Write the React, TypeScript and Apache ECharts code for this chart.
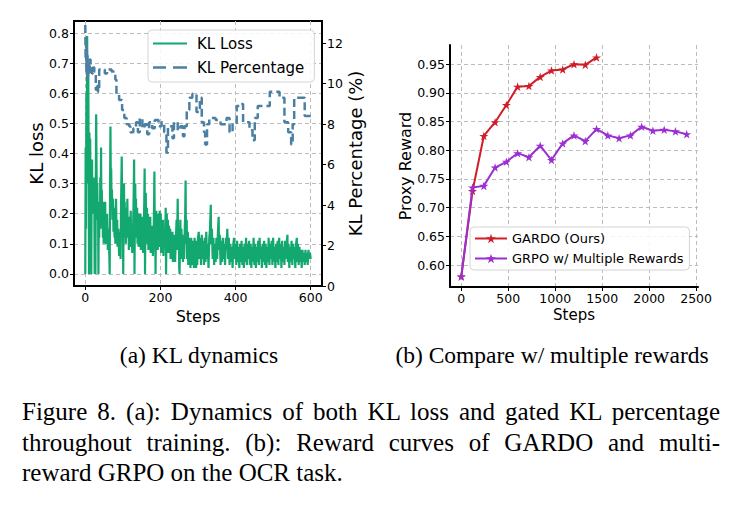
import React, { useEffect, useRef } from "react";
import * as echarts from "echarts";

// ---- KL dynamics: [step, KL loss] ----
const klLoss: [number, number][] = [
  [0, 0.0], [1, 0.42], [2, 0.15], [3, 0.6], [4, 0.35], [5, 0.79], [6, 0.55], [7, 0.3], [8, 0.68], [9, 0.35],
  [10, 0.0], [11, 0.47], [12, 0.3], [13, 0.45], [14, 0.25], [15, 0.35], [16, 0.0], [17, 0.28], [18, 0.38], [19, 0.2],
  [20, 0.3], [21, 0.22], [22, 0.32], [23, 0.2], [24, 0.27], [25, 0.0], [26, 0.25], [27, 0.0], [28, 0.3], [29, 0.53],
  [30, 0.35], [31, 0.25], [32, 0.3], [33, 0.18], [34, 0.22], [35, 0.0], [36, 0.2], [37, 0.12], [38, 0.24], [39, 0.15],
  [40, 0.32], [41, 0.2], [42, 0.42], [43, 0.2], [44, 0.28], [45, 0.15], [46, 0.22], [47, 0.12], [48, 0.2], [49, 0.1],
  [50, 0.24], [52, 0.13], [53, 0.24], [54, 0.1], [56, 0.18], [57, 0.12], [58, 0.2], [60, 0.08], [62, 0.15], [64, 0.06],
  [65, 0.0], [66, 0.3], [67, 0.49], [68, 0.3], [69, 0.35], [70, 0.22], [71, 0.28], [72, 0.18], [74, 0.25], [75, 0.14],
  [76, 0.22], [78, 0.12], [79, 0.2], [80, 0.1], [82, 0.25], [83, 0.12], [85, 0.18], [86, 0.09], [88, 0.15], [90, 0.06],
  [92, 0.14], [94, 0.05], [95, 0.2], [96, 0.3], [97, 0.39], [98, 0.25], [99, 0.15],
  [100, 0.2], [101, 0.0], [102, 0.18], [103, 0.3], [104, 0.16], [105, 0.24], [106, 0.12], [107, 0.22], [108, 0.1], [110, 0.2],
  [111, 0.13], [112, 0.25], [113, 0.12], [115, 0.19], [116, 0.08], [118, 0.17], [119, 0.1], [121, 0.21], [122, 0.09], [124, 0.16],
  [125, 0.07], [127, 0.14], [128, 0.2], [129, 0.28], [130, 0.38], [131, 0.0], [132, 0.2], [133, 0.3], [134, 0.16], [135, 0.25],
  [136, 0.12], [138, 0.22], [139, 0.1], [141, 0.2], [142, 0.09], [144, 0.18], [145, 0.11], [147, 0.2], [148, 0.08], [150, 0.16],
  [151, 0.1], [153, 0.19], [154, 0.07], [156, 0.15], [157, 0.24], [158, 0.35], [159, 0.0], [160, 0.18], [161, 0.27], [162, 0.14],
  [164, 0.22], [165, 0.1], [167, 0.2], [168, 0.08], [170, 0.17], [171, 0.1], [173, 0.19], [174, 0.07], [176, 0.15], [177, 0.09],
  [179, 0.16], [180, 0.06], [182, 0.14], [183, 0.22], [184, 0.34], [185, 0.1], [186, 0.2], [187, 0.0], [188, 0.15], [189, 0.21],
  [190, 0.1], [192, 0.2], [193, 0.08], [195, 0.19], [196, 0.1], [198, 0.21], [199, 0.09], [201, 0.2], [202, 0.07], [204, 0.17],
  [205, 0.1], [207, 0.18], [208, 0.06], [210, 0.15], [211, 0.09], [213, 0.14], [214, 0.22], [215, 0.0], [216, 0.13], [217, 0.2],
  [218, 0.1], [220, 0.18], [221, 0.07], [223, 0.16], [224, 0.09], [226, 0.15], [227, 0.05], [229, 0.13], [230, 0.08], [232, 0.14],
  [233, 0.04], [235, 0.12], [236, 0.07], [238, 0.13], [239, 0.04], [241, 0.11], [243, 0.18], [244, 0.08], [246, 0.25], [247, 0.1],
  [249, 0.15], [250, 0.02], [251, 0.0], [252, 0.12], [253, 0.18], [254, 0.07], [256, 0.15], [257, 0.05], [259, 0.13], [260, 0.04],
  [262, 0.12], [263, 0.05], [265, 0.16], [266, 0.2], [267, 0.31], [268, 0.1], [270, 0.18], [271, 0.05], [273, 0.14], [274, 0.03],
  [276, 0.12], [277, 0.04], [279, 0.1], [280, 0.02], [282, 0.12], [283, 0.03], [285, 0.11], [286, 0.04], [288, 0.1], [289, 0.02],
  [291, 0.12], [292, 0.04], [294, 0.1], [295, 0.02], [297, 0.11], [298, 0.03],
  [300, 0.12], [302, 0.14], [304, 0.05], [306, 0.12], [308, 0.03], [310, 0.13],
  [312, 0.05], [314, 0.11], [316, 0.03], [318, 0.12], [320, 0.04], [322, 0.14], [324, 0.05], [326, 0.1], [328, 0.02], [330, 0.12],
  [332, 0.15], [334, 0.23], [335, 0.1], [337, 0.15], [339, 0.05], [341, 0.12], [343, 0.03], [345, 0.1], [347, 0.04], [349, 0.12],
  [351, 0.05], [353, 0.14], [355, 0.19], [356, 0.08], [358, 0.13], [360, 0.03], [362, 0.11], [364, 0.04], [366, 0.12], [368, 0.05],
  [370, 0.1], [372, 0.03], [374, 0.12], [376, 0.08], [378, 0.15], [380, 0.05], [382, 0.12], [384, 0.03], [386, 0.1], [388, 0.04],
  [390, 0.09], [392, 0.02], [394, 0.1], [396, 0.12], [398, 0.05], [400, 0.1], [402, 0.03], [404, 0.11], [406, 0.04], [408, 0.09],
  [410, 0.02], [412, 0.1], [414, 0.04], [416, 0.11], [418, 0.03], [420, 0.09], [422, 0.02], [424, 0.1], [426, 0.04], [428, 0.12],
  [430, 0.03], [432, 0.1], [434, 0.05], [436, 0.11], [438, 0.03], [440, 0.1], [442, 0.02], [444, 0.09], [446, 0.04], [448, 0.12],
  [450, 0.03], [452, 0.1], [454, 0.02], [456, 0.09], [458, 0.04], [460, 0.11], [462, 0.03], [464, 0.12], [466, 0.05], [468, 0.09],
  [470, 0.02], [472, 0.1], [474, 0.04], [476, 0.11], [478, 0.03], [480, 0.1], [482, 0.02], [484, 0.09], [486, 0.04], [488, 0.12],
  [490, 0.03], [492, 0.1], [494, 0.05], [496, 0.11], [498, 0.03], [500, 0.12], [502, 0.04], [504, 0.09], [506, 0.02], [508, 0.1],
  [510, 0.04], [512, 0.11], [514, 0.03], [516, 0.12], [518, 0.05], [520, 0.1], [522, 0.02], [524, 0.11], [526, 0.04], [528, 0.09],
  [530, 0.03], [532, 0.11], [534, 0.05], [536, 0.1], [538, 0.13], [539, 0.04], [541, 0.1], [543, 0.02], [545, 0.09], [547, 0.04],
  [549, 0.11], [551, 0.03], [553, 0.1], [555, 0.05], [557, 0.09], [559, 0.02], [561, 0.1], [563, 0.12], [564, 0.04], [566, 0.1],
  [568, 0.03], [570, 0.09], [572, 0.04], [574, 0.08], [576, 0.02], [578, 0.08], [580, 0.04], [582, 0.07], [584, 0.03], [586, 0.08],
  [588, 0.04], [590, 0.07], [592, 0.03], [594, 0.08], [596, 0.05], [598, 0.07], [600, 0.05],
];

// ---- KL dynamics: [step, gated KL percentage (%)], piecewise constant ----
const klPercentage: [number, number][] = [
  [0, 12.9], [1, 11.2], [2, 12.3], [3, 10.6], [4, 11.8], [5, 10.4], [6, 11.4], [7, 10.2], [8, 11.0], [10, 10.5],
  [12, 11.2], [14, 10.6], [16, 10.9], [18, 10.5], [20, 10.8], [24, 10.6], [28, 9.7], [31, 10.0], [34, 9.6], [37, 10.7],
  [50, 10.7], [52, 10.5], [58, 10.7], [70, 10.6], [80, 10.2], [83, 9.5], [90, 9.2], [98, 8.7], [104, 8.3], [110, 8.0],
  [117, 7.9], [120, 7.6], [128, 7.8], [135, 8.1], [140, 7.6], [145, 8.3], [152, 7.8], [158, 8.0], [165, 7.5], [170, 8.1],
  [178, 7.8], [185, 8.2], [195, 7.9], [203, 8.1], [210, 7.6], [216, 6.6], [220, 7.9], [232, 7.3], [236, 8.1], [246, 7.7],
  [253, 7.9], [260, 7.4], [264, 7.9], [270, 8.7], [277, 9.3], [285, 9.5], [296, 8.6], [305, 9.3], [310, 8.1], [316, 7.6],
  [319, 7.0], [324, 8.0], [330, 8.3], [347, 8.2], [360, 8.0], [376, 8.3], [384, 7.6], [392, 8.05], [403, 8.9], [410, 9.0],
  [420, 8.1], [437, 7.7], [445, 7.2], [451, 8.3], [459, 8.9], [491, 9.6], [517, 9.3], [530, 8.1], [540, 7.6], [548, 7.0],
  [552, 8.0], [556, 9.3], [584, 8.4], [600, 8.4],
];

// ---- Reward curves ----
const gardoSteps = [0, 120, 240, 360, 480, 600, 720, 840, 960, 1080, 1200, 1320, 1440];
const gardoReward = [0.58, 0.729, 0.825, 0.849, 0.879, 0.911, 0.912, 0.928, 0.939, 0.941, 0.95, 0.949, 0.962];

const grpoSteps = [0, 120, 240, 360, 480, 600, 720, 840, 960, 1080, 1200, 1320, 1440, 1560, 1680, 1800, 1920, 2040, 2160, 2280, 2400];
const grpoReward = [0.58, 0.735, 0.738, 0.77, 0.78, 0.795, 0.788, 0.808, 0.783, 0.812, 0.826, 0.816, 0.837, 0.826, 0.821, 0.826, 0.841, 0.834, 0.836, 0.833, 0.828];

// ---- Tick labels ----
const klStepTicks = [0, 200, 400, 600];
const klLossTicks = [0, 0.1, 0.2, 0.3, 0.4, 0.5, 0.6, 0.7, 0.8];
const klPctTicks = [0, 2, 4, 6, 8, 10, 12];
const rewardStepTicks = [0, 500, 1000, 1500, 2000, 2500];
const rewardTicks = [0.6, 0.65, 0.7, 0.75, 0.8, 0.85, 0.9, 0.95];

const captionLines = [
  "Figure 8. (a): Dynamics of both KL loss and gated KL percentage",
  "throughout training. (b): Reward curves of GARDO and multi-",
  "reward GRPO on the OCR task.",
];

const STAR =
  "path://M0,-10L2.245,-3.09L9.511,-3.09L3.633,1.18L5.878,8.09L0,3.82L-5.878,8.09L-3.633,1.18L-9.511,-3.09L-2.245,-3.09Z";
// legend samples for the two KL curves (solid and dashed strokes)
const SOLID_ICON = "path://M0,0H34V2.2H0Z";
const DASHED_ICON = "path://M0,0H13V2.6H0ZM20,0H34V2.6H20Z";

const SANS = "DejaVu Sans";
const SERIF = "Liberation Serif";
const GRID_LINE = { show: true, lineStyle: { color: "#bcbcbc", type: [4, 3] as number[], width: 1 } };
const AXIS_LINE = { show: true, onZero: false, lineStyle: { color: "#000", width: 2 } };
const TICK = { show: true, inside: false, length: 4, lineStyle: { color: "#000", width: 1 } };
const plain = (v: number) => String(v);

export default function App() {
  const ref = useRef<HTMLDivElement>(null);

  useEffect(() => {
    if (!ref.current) return;
    const chart = echarts.init(ref.current, null, { renderer: "svg" });
    chart.setOption({
      animation: false,
      backgroundColor: "#fff",
      grid: [
        { left: 74, top: 21, width: 248, height: 265, show: true, borderColor: "#000", borderWidth: 2, backgroundColor: "transparent" },
        { left: 450, top: 45, width: 248, height: 242, show: false },
      ],
      xAxis: [
        {
          type: "value", gridIndex: 0, min: -30, max: 630,
          axisLine: AXIS_LINE, axisTick: { ...TICK, customValues: klStepTicks },
          axisLabel: { customValues: klStepTicks, formatter: plain, color: "#000", fontFamily: SANS, fontSize: 12.5, margin: 5 },
          splitLine: GRID_LINE,
          name: "Steps", nameLocation: "middle", nameGap: 13,
          nameTextStyle: { color: "#000", fontFamily: SANS, fontSize: 16, verticalAlign: "top" },
        },
        {
          type: "value", gridIndex: 1, min: -120, max: 2520,
          axisLine: AXIS_LINE, axisTick: { ...TICK, customValues: rewardStepTicks },
          axisLabel: { customValues: rewardStepTicks, formatter: plain, color: "#000", fontFamily: SANS, fontSize: 12.5, margin: 5 },
          splitLine: GRID_LINE,
          name: "Steps", nameLocation: "middle", nameGap: 20,
          nameTextStyle: { color: "#000", fontFamily: SANS, fontSize: 15, verticalAlign: "top" },
        },
      ],
      yAxis: [
        {
          type: "value", gridIndex: 0, min: -0.04, max: 0.84,
          axisLine: AXIS_LINE, axisTick: { ...TICK, customValues: klLossTicks },
          axisLabel: {
            customValues: klLossTicks, color: "#000", fontFamily: SANS, fontSize: 12.5, margin: 5,
            formatter: (v: number) => v.toFixed(1),
          },
          splitLine: GRID_LINE,
          name: "KL loss", nameLocation: "middle", nameGap: 28,
          nameTextStyle: { color: "#000", fontFamily: SANS, fontSize: 18 },
        },
        {
          type: "value", gridIndex: 0, position: "right", min: 0, max: 13.1,
          axisLine: AXIS_LINE, axisTick: { ...TICK, customValues: klPctTicks },
          axisLabel: { customValues: klPctTicks, formatter: plain, color: "#000", fontFamily: SANS, fontSize: 12.5, margin: 5 },
          splitLine: { show: false },
          name: "KL Percentage (%)", nameLocation: "middle", nameGap: 24,
          nameTextStyle: { color: "#000", fontFamily: SANS, fontSize: 18 },
        },
        {
          type: "value", gridIndex: 1, min: 0.5617, max: 0.9836,
          axisLine: AXIS_LINE, axisTick: { ...TICK, customValues: rewardTicks },
          axisLabel: {
            customValues: rewardTicks, color: "#000", fontFamily: SANS, fontSize: 12.5, margin: 5,
            formatter: (v: number) => v.toFixed(2),
          },
          splitLine: GRID_LINE,
          name: "Proxy Reward", nameLocation: "middle", nameGap: 37,
          nameTextStyle: { color: "#000", fontFamily: SANS, fontSize: 16 },
        },
      ],
      legend: [
        {
          orient: "vertical", left: 148, top: 30, width: 165,
          data: [
            { name: "KL Loss", icon: SOLID_ICON },
            { name: "KL Percentage", icon: DASHED_ICON },
          ],
          itemWidth: 34, itemHeight: 14, itemGap: 9,
          itemStyle: { borderWidth: 0 },
          padding: [6, 10, 7, 5],
          backgroundColor: "rgba(255,255,255,0.85)", borderColor: "#d4d4d4", borderWidth: 1, borderRadius: 4,
          textStyle: { color: "#000", fontFamily: SANS, fontSize: 15, lineHeight: 14, padding: [0, 0, 0, 5] },
        },
        {
          orient: "vertical", left: 470, top: 227,
          data: ["GARDO (Ours)", "GRPO w/ Multiple Rewards"],
          itemWidth: 32, itemHeight: 12, itemGap: 7,
          padding: [5, 6, 5, 4],
          backgroundColor: "rgba(255,255,255,0.85)", borderColor: "#d4d4d4", borderWidth: 1, borderRadius: 4,
          textStyle: { color: "#000", fontFamily: SANS, fontSize: 13, lineHeight: 12 },
        },
      ],
      series: [
        {
          name: "KL Loss", type: "line", xAxisIndex: 0, yAxisIndex: 0,
          data: klLoss, symbol: "none", z: 3,
          lineStyle: { color: "#13a86f", width: 2.2 }, itemStyle: { color: "#13a86f" },
        },
        {
          name: "KL Percentage", type: "line", xAxisIndex: 0, yAxisIndex: 1,
          data: klPercentage, step: "end", symbol: "none", z: 4,
          lineStyle: { color: "#4b80a3", width: 2.5, type: [8, 4] }, itemStyle: { color: "#4b80a3" },
        },
        {
          name: "GARDO (Ours)", type: "line", xAxisIndex: 1, yAxisIndex: 2,
          data: gardoSteps.map((s, i) => [s, gardoReward[i]]),
          symbol: STAR, symbolSize: 9, symbolKeepAspect: true, showSymbol: true, z: 4,
          lineStyle: { color: "#d01d2a", width: 2 }, itemStyle: { color: "#d01d2a" },
        },
        {
          name: "GRPO w/ Multiple Rewards", type: "line", xAxisIndex: 1, yAxisIndex: 2,
          data: grpoSteps.map((s, i) => [s, grpoReward[i]]),
          symbol: STAR, symbolSize: 9, symbolKeepAspect: true, showSymbol: true, z: 5,
          lineStyle: { color: "#9b2fd2", width: 2 }, itemStyle: { color: "#9b2fd2" },
        },
      ],
      graphic: [
        {
          type: "text", x: 199, y: 355,
          style: { text: "(a) KL dynamics", font: `23.5px "${SERIF}"`, fill: "#000", textAlign: "center", textVerticalAlign: "middle" },
        },
        {
          type: "text", x: 552, y: 355,
          style: { text: "(b) Compare w/ multiple rewards", font: `23.5px "${SERIF}"`, fill: "#000", textAlign: "center", textVerticalAlign: "middle" },
        },
      ],
    });
    return () => chart.dispose();
  }, []);

  return (
    <div style={{ position: "absolute", left: 0, top: 0, width: 740, height: 514, background: "#fff" }}>
      <div ref={ref} style={{ position: "absolute", left: 0, top: 0, width: 740, height: 514 }} />
      <div
        style={{
          position: "absolute", left: 22, top: 397, width: 698,
          fontFamily: `"${SERIF}", serif`, fontSize: 25, lineHeight: "30.5px", color: "#000",
        }}
      >
        {captionLines.map((line, i) => (
          <div
            key={i}
            style={{
              textAlign: i < captionLines.length - 1 ? "justify" : "left",
              textAlignLast: i < captionLines.length - 1 ? "justify" : "left",
              whiteSpace: "nowrap",
            }}
          >
            {line}
          </div>
        ))}
      </div>
    </div>
  );
}
